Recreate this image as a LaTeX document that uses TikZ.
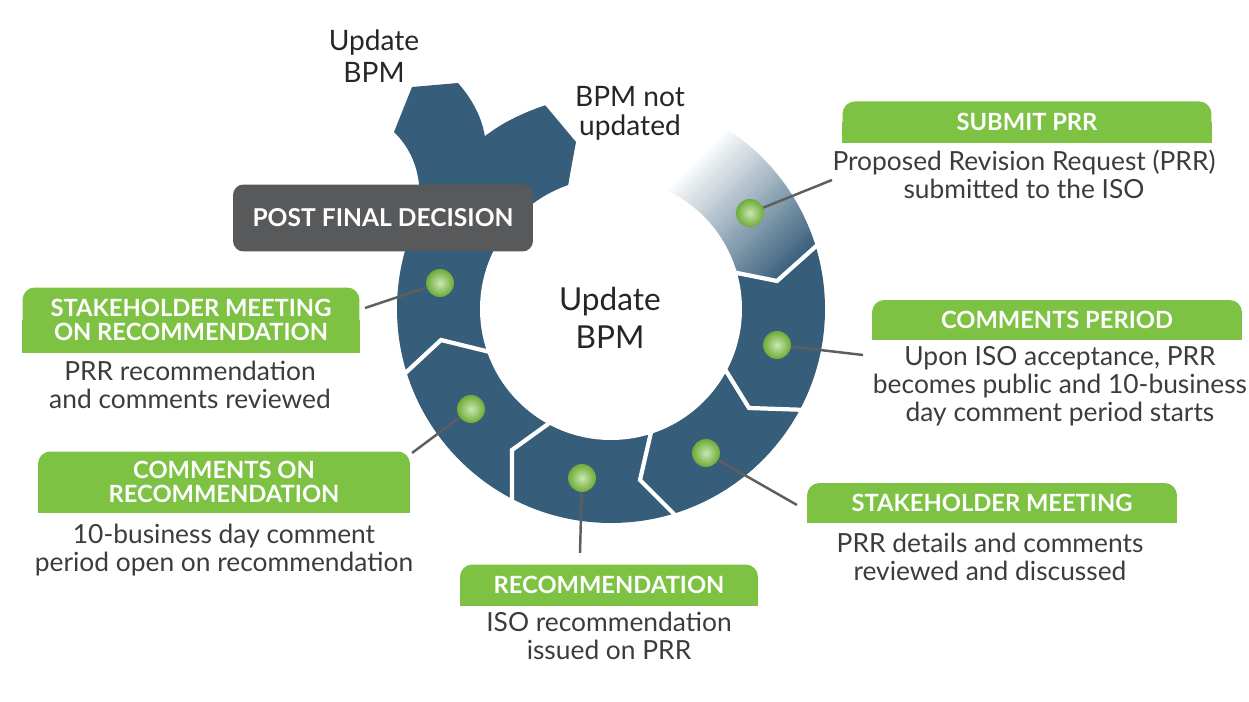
\documentclass[tikz,border=0pt]{standalone}
\usepackage{fontspec}
\setmainfont{Lato}
\usepackage{tikz}
\usetikzlibrary{positioning,backgrounds}
\definecolor{ringblue}{HTML}{365D7A}
\definecolor{hdgreen}{HTML}{7DC242}
\definecolor{dotgreen}{HTML}{7CC23E}
\definecolor{boxgrey}{HTML}{58595B}
\definecolor{txtgrey}{HTML}{3C3C3C}
\definecolor{linegrey}{HTML}{5E5E5E}
\tikzset{
    hdbox/.style={fill=hdgreen, rounded corners=7pt, text=white, align=center,
        font=\fontsize{13.5}{13.5}\selectfont\bfseries, inner sep=0pt},
    bodytext/.style={text=txtgrey, align=center, font=\fontsize{15}{16}\selectfont, inner sep=0pt},
    bpmtext/.style={text=black!85, align=center, inner sep=0pt},
    stepdot/.style={circle, inner sep=0pt, minimum size=0.56cm,
        inner color=white!60!dotgreen, outer color=dotgreen!88!black},
    cutline/.style={white, line width=2.4pt},
    conn/.style={linegrey, line width=1.4pt}}

\begin{document}
\begin{tikzpicture}[x=0.02cm, y=-0.02cm]

        \useasboundingbox (0,0) rectangle (1249,702);

        \begin{scope}
            \clip (611,309) -- (728,274) -- (777,281) -- (830,232) -- (900,232) -- (900,702) -- (0,702) -- (0,0) -- (545,0) -- (545,105) -- (576,142) -- (567,190) -- cycle;
            \fill[ringblue] (611,309) circle[radius=214];
        \end{scope}
        \begin{scope}
            \clip (611,309) -- (567,190) -- (576,142) -- (545,105) -- (545,0) -- (900,0) -- (900,232) -- (830,232) -- (777,281) -- (728,274) -- cycle;
            \clip (611,309) circle[radius=214];
            \foreach \c in {840,846,...,1074} {
                \pgfmathtruncatemacro{\p}{min(100,max(0,(\c-850)/210*100))}
                \fill[ringblue!\p!white] (\c,0) -- (\c+7,0) -- (\c-693,700) -- (\c-700,700) -- cycle;
            }
            \fill[ringblue] (1078,0) -- (1500,0) -- (800,700) -- (378,700) -- cycle;
        \end{scope}

        \fill[ringblue] (404,262) .. controls (425,215) and (428,165) .. (394,132) -- (412,87) -- (458,83)
            .. controls (473,100) and (482,118) .. (485,137) .. controls (500,124) and (522,112) .. (545,109)
            -- (575,142) -- (567,192) -- (540,260) -- (470,285) -- cycle;
        \fill[white] (611,309) circle[radius=131];

        \draw[cutline] (722,270) -- (777,281) -- (823,240);
        \draw[cutline] (723,366) -- (749,408) -- (808,410);
        \draw[cutline] (652,428) -- (640,480) -- (679,519);
        \draw[cutline] (555,419) -- (512,450) -- (512,508);
        \draw[cutline] (494,353) -- (441,340) -- (399,379);

        \node[bpmtext, font=\fontsize{18}{21.5}\selectfont] (hub) at (610,318) {Update\\BPM};
        \node[bpmtext, font=\fontsize{16}{18}\selectfont] (upd) at (374,56) {Update\\BPM};
        \node[bpmtext, font=\fontsize{16}{16.5}\selectfont] (keep) at (630,113) {BPM not\\updated};

        \node[fill=boxgrey, rounded corners=6pt, text=white, font=\fontsize{14}{15}\selectfont\bfseries,
            minimum width=6cm, minimum height=1.34cm, inner sep=0pt] (post) at (383,218) {POST FINAL DECISION};

        \node[stepdot] (d1) at (750,213) {};
        \node[stepdot] (d2) at (777,345) {};
        \node[stepdot] (d3) at (706,453) {};
        \node[stepdot] (d4) at (582,478) {};
        \node[stepdot] (d5) at (471,409) {};
        \node[stepdot] (d6) at (440,283) {};

        \coordinate (e1) at (832,180);
        \coordinate (e2) at (863,355);
        \coordinate (e3) at (797,505);
        \coordinate (e4) at (580,553);
        \coordinate (e5) at (412,453);
        \coordinate (e6) at (365,308);

        \draw[conn] (d1) -- (e1);
        \draw[conn] (d2) -- (e2);
        \draw[conn] (d3) -- (e3);
        \draw[conn] (d4) -- (e4);
        \draw[conn] (d5) -- (e5);
        \draw[conn] (d6) -- (e6);

        \node[hdbox, minimum width=7.38cm, minimum height=0.82cm] (submit) at (1027,122) {SUBMIT PRR};
        \node[hdbox, minimum width=7.4cm, minimum height=0.8cm] (period) at (1057,320) {COMMENTS PERIOD};
        \node[hdbox, minimum width=7.4cm, minimum height=0.8cm] (meeting) at (992,503) {STAKEHOLDER MEETING};
        \node[hdbox, minimum width=5.96cm, minimum height=0.82cm] (recom) at (609,585) {RECOMMENDATION};
        \node[hdbox, minimum width=7.44cm, minimum height=1.22cm] (onrec) at (224,482) {COMMENTS ON\\RECOMMENDATION};
        \node[hdbox, minimum width=6.74cm, minimum height=1.3cm] (meetrec) at (191,320) {STAKEHOLDER MEETING\\ON RECOMMENDATION};

        \begin{scope}[on background layer]
            \foreach \h in {submit, period, meeting, recom, onrec, meetrec}
                \fill[hdgreen] (\h.west) rectangle (\h.south east);
        \end{scope}

        \node[bodytext] (submittxt) at (1024,174) {Proposed Revision Request (PRR)\\submitted to the ISO};
        \node[bodytext] (periodtxt) at (1060,386) {Upon ISO acceptance, PRR\\becomes public and 10-business\\day comment period starts};
        \node[bodytext] (meetingtxt) at (990,557) {PRR details and comments\\reviewed and discussed};
        \node[bodytext] (recomtxt) at (609,636) {ISO recommendation\\issued on PRR};
        \node[bodytext] (onrectxt) at (224,550) {10-business day comment\\period open on recommendation};
        \node[bodytext] (meetrectxt) at (190,385) {PRR recommendation\\and comments reviewed};

\end{tikzpicture}
\end{document}
